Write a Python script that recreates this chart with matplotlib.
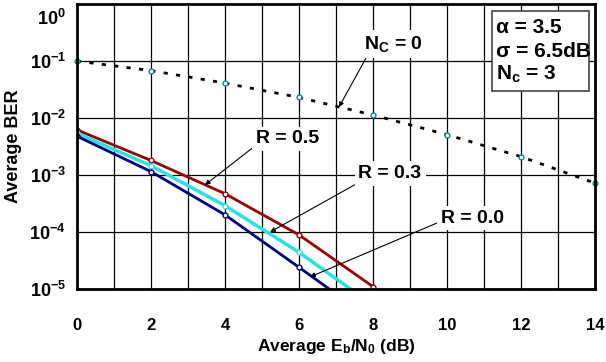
import matplotlib.pyplot as plt
import matplotlib.transforms as mtransforms
from matplotlib.patches import Rectangle
import numpy as np

plt.rcParams['font.family'] = ['Liberation Sans', 'DejaVu Sans']
plt.rcParams['font.weight'] = 'bold'
plt.rcParams['mathtext.fontset'] = 'custom'
plt.rcParams['mathtext.rm'] = 'Liberation Sans:bold'
plt.rcParams['mathtext.bf'] = 'Liberation Sans:bold'
plt.rcParams['mathtext.it'] = 'Liberation Sans:bold'

# data
snr = [0, 2, 4, 6, 8, 10, 12, 14]
ber_nc0 = [0.1, 0.068, 0.041, 0.023, 0.0113, 0.0051, 0.0021, 0.00072]
snr_r = [0, 2, 4, 6, 8]
ber_r05 = [0.0062, 0.0018, 0.00047, 8.9e-5, 1.1e-5]
ber_r03 = [0.0054, 0.00146, 0.00029, 4.4e-5, 5.2e-6]
ber_r00 = [0.0048, 0.00115, 0.0002, 2.4e-5, 2.8e-6]
ytick_vals = [1e0, 1e-1, 1e-2, 1e-3, 1e-4, 1e-5]
ytick_labels = [r'$\mathbf{10^{0}}$', r'$\mathbf{10^{-1}}$', r'$\mathbf{10^{-2}}$',
                r'$\mathbf{10^{-3}}$', r'$\mathbf{10^{-4}}$', r'$\mathbf{10^{-5}}$']
box_lines = ['\u03b1 = 3.5', '\u03c3 = 6.5dB', r'N$_\mathrm{c}$ = 3']

fig = plt.figure(figsize=(6.06, 3.62), dpi=100)
ax = fig.add_axes([0.127, 0.2017, 0.855, 0.787])

ax.plot(snr, ber_nc0, color='k', lw=2, linestyle=(0, (1.5, 3)), zorder=3)
ax.plot(snr, ber_nc0, 'o', ms=3.5, mfc='white', mec='#008b8b', mew=1, zorder=4, clip_on=False)
ax.plot(snr_r, ber_r05, color='#990000', lw=2, marker='o', ms=3.5, mfc='white', mec='#990000', zorder=3)
ax.plot(snr_r, ber_r03, color='#22e5e5', lw=2.5, marker='o', ms=3.5, mfc='white', mec='#22e5e5', zorder=3)
ax.plot(snr_r, ber_r00, color='#000080', lw=2, marker='o', ms=3.5, mfc='white', mec='#000080', zorder=3)

ax.set_yscale('log')
ax.set_xlim(0, 14)
ax.set_ylim(1e-5, 1)
ax.set_xticks(np.arange(0, 15, 2))
ax.set_xticks(np.arange(0, 15, 1), minor=True)
ax.set_yticks(ytick_vals)
ax.set_yticklabels(ytick_labels)
ax.yaxis.set_minor_locator(plt.NullLocator())
ax.tick_params(which='both', length=0)
ax.tick_params(axis='x', labelsize=12, pad=21)
ax.tick_params(axis='y', labelsize=13, pad=8)
# top label is pushed down inside the figure, as in the original
top_lbl = ax.get_yticklabels()[0]
top_lbl.set_transform(top_lbl.get_transform() +
                      mtransforms.ScaledTranslation(0, -13 / 100, fig.dpi_scale_trans))
ax.grid(True, which='both', axis='x', color='k', lw=0.9)
ax.grid(True, which='major', axis='y', color='k', lw=0.9)
for s in ax.spines.values():
    s.set_linewidth(2)
    s.set_zorder(6)

ax.set_xlabel(r'Average E$_\mathbf{b}$/N$_\mathbf{0}$ (dB)', fontsize=12.5, fontweight='bold', labelpad=3)
ax.set_ylabel('Average BER', fontsize=13, fontweight='bold', labelpad=5)

bb = dict(boxstyle='square,pad=0.2', fc='white', ec='none')
def arrow(rp):
    return dict(arrowstyle='-|>', mutation_scale=7, color='k', lw=0.8,
                shrinkA=0, shrinkB=0, relpos=rp)
ax.annotate(r'N$_\mathrm{C}$ = 0', xy=(7.08, 0.0156), xytext=(8.54, 0.2),
            fontsize=14, ha='center', va='center', bbox=bb, arrowprops=arrow((0.08, 0)))
ax.annotate('R = 0.5', xy=(3.46, 0.00067), xytext=(5.70, 0.0043),
            fontsize=14, ha='center', va='center', bbox=bb, arrowprops=arrow((0.0, 0.15)))
ax.annotate('R = 0.3', xy=(5.22, 0.0001), xytext=(8.46, 0.00108),
            fontsize=14, ha='center', va='center', bbox=bb, arrowprops=arrow((0.03, 0.0)))
ax.annotate('R = 0.0', xy=(6.30, 1.63e-5), xytext=(10.68, 0.000176),
            fontsize=14, ha='center', va='center', bbox=bb, arrowprops=arrow((0.0, 0.3)))

ax.add_patch(Rectangle((0.801, 0.695), 0.187, 0.28, transform=ax.transAxes,
                       fc='white', ec='#444444', lw=1.2, zorder=5))
for line, yy in zip(box_lines, [0.898, 0.814, 0.733]):
    ax.text(0.809, yy, line, transform=ax.transAxes, fontsize=15,
            fontweight='bold', va='baseline', ha='left', zorder=7)

fig.savefig('out.png', dpi=100)
